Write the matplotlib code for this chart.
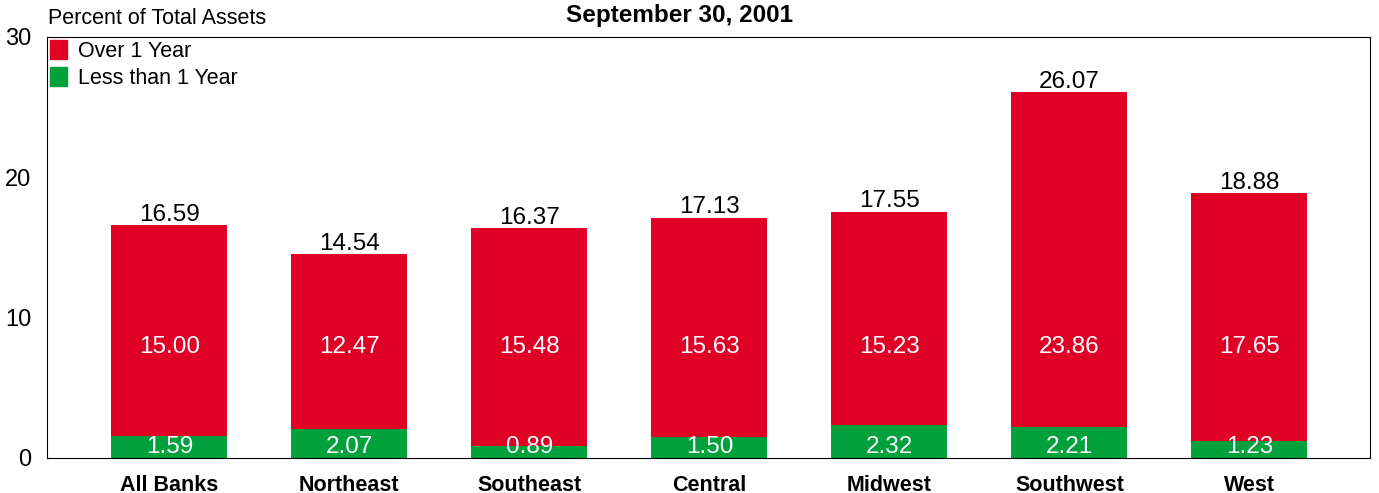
import matplotlib.pyplot as plt
import numpy as np
from matplotlib.patches import Patch

plt.rcParams['font.family'] = ['Liberation Sans', 'DejaVu Sans']

regions = ["All Banks", "Northeast", "Southeast", "Central", "Midwest", "Southwest", "West"]
less_1yr = [1.59, 2.07, 0.89, 1.50, 2.32, 2.21, 1.23]
over_1yr = [15.00, 12.47, 15.48, 15.63, 15.23, 23.86, 17.65]
totals = [16.59, 14.54, 16.37, 17.13, 17.55, 26.07, 18.88]

red = "#E00025"
green = "#00A03C"

fig = plt.figure(figsize=(13.79, 4.93), dpi=100)
ax = fig.add_axes([0.034, 0.071, 0.9595, 0.854])

x = np.arange(len(regions))
w = 0.645
ax.bar(x, less_1yr, w, color=green)
ax.bar(x, over_1yr, w, bottom=less_1yr, color=red)

for xi, g, r, t in zip(x, less_1yr, over_1yr, totals):
    ax.text(xi, 0.75, f"{g:.2f}", ha="center", va="center", color="white", fontsize=17.5)
    ax.text(xi, 7.9, f"{r:.2f}", ha="center", va="center", color="white", fontsize=17.5)
    ax.text(xi, t - 0.05, f"{t:.2f}", ha="center", va="bottom", color="black", fontsize=17.5)

ax.set_xlim(-0.68, 6.67)
ax.set_ylim(0, 29.5)
ax.set_yticks([0, 10, 20, 30])
ax.set_yticklabels(["0", "10", "20", "30"], fontsize=17)
ax.set_xticks(x)
ax.set_xticklabels(regions, fontsize=15.5, fontweight="bold")
ax.tick_params(length=0, axis="y", pad=11)
ax.tick_params(length=0, axis="x", pad=12)
for s in ax.spines.values():
    s.set_linewidth(0.8)

handles = [Patch(color=red, label="Over 1 Year"), Patch(color=green, label="Less than 1 Year")]
ax.legend(handles=handles, loc="upper left", frameon=False, fontsize=15.5,
          handlelength=0.8, handleheight=1.0, handletextpad=0.5, labelspacing=0.2,
          borderaxespad=0.05, borderpad=0.1)

fig.text(0.035, 0.962, "Percent of Total Assets", ha="left", va="center", fontsize=15.5)
fig.text(0.493, 0.968, "September 30, 2001", ha="center", va="center", fontsize=17.5, fontweight="bold")

fig.savefig("out.png", dpi=100)
